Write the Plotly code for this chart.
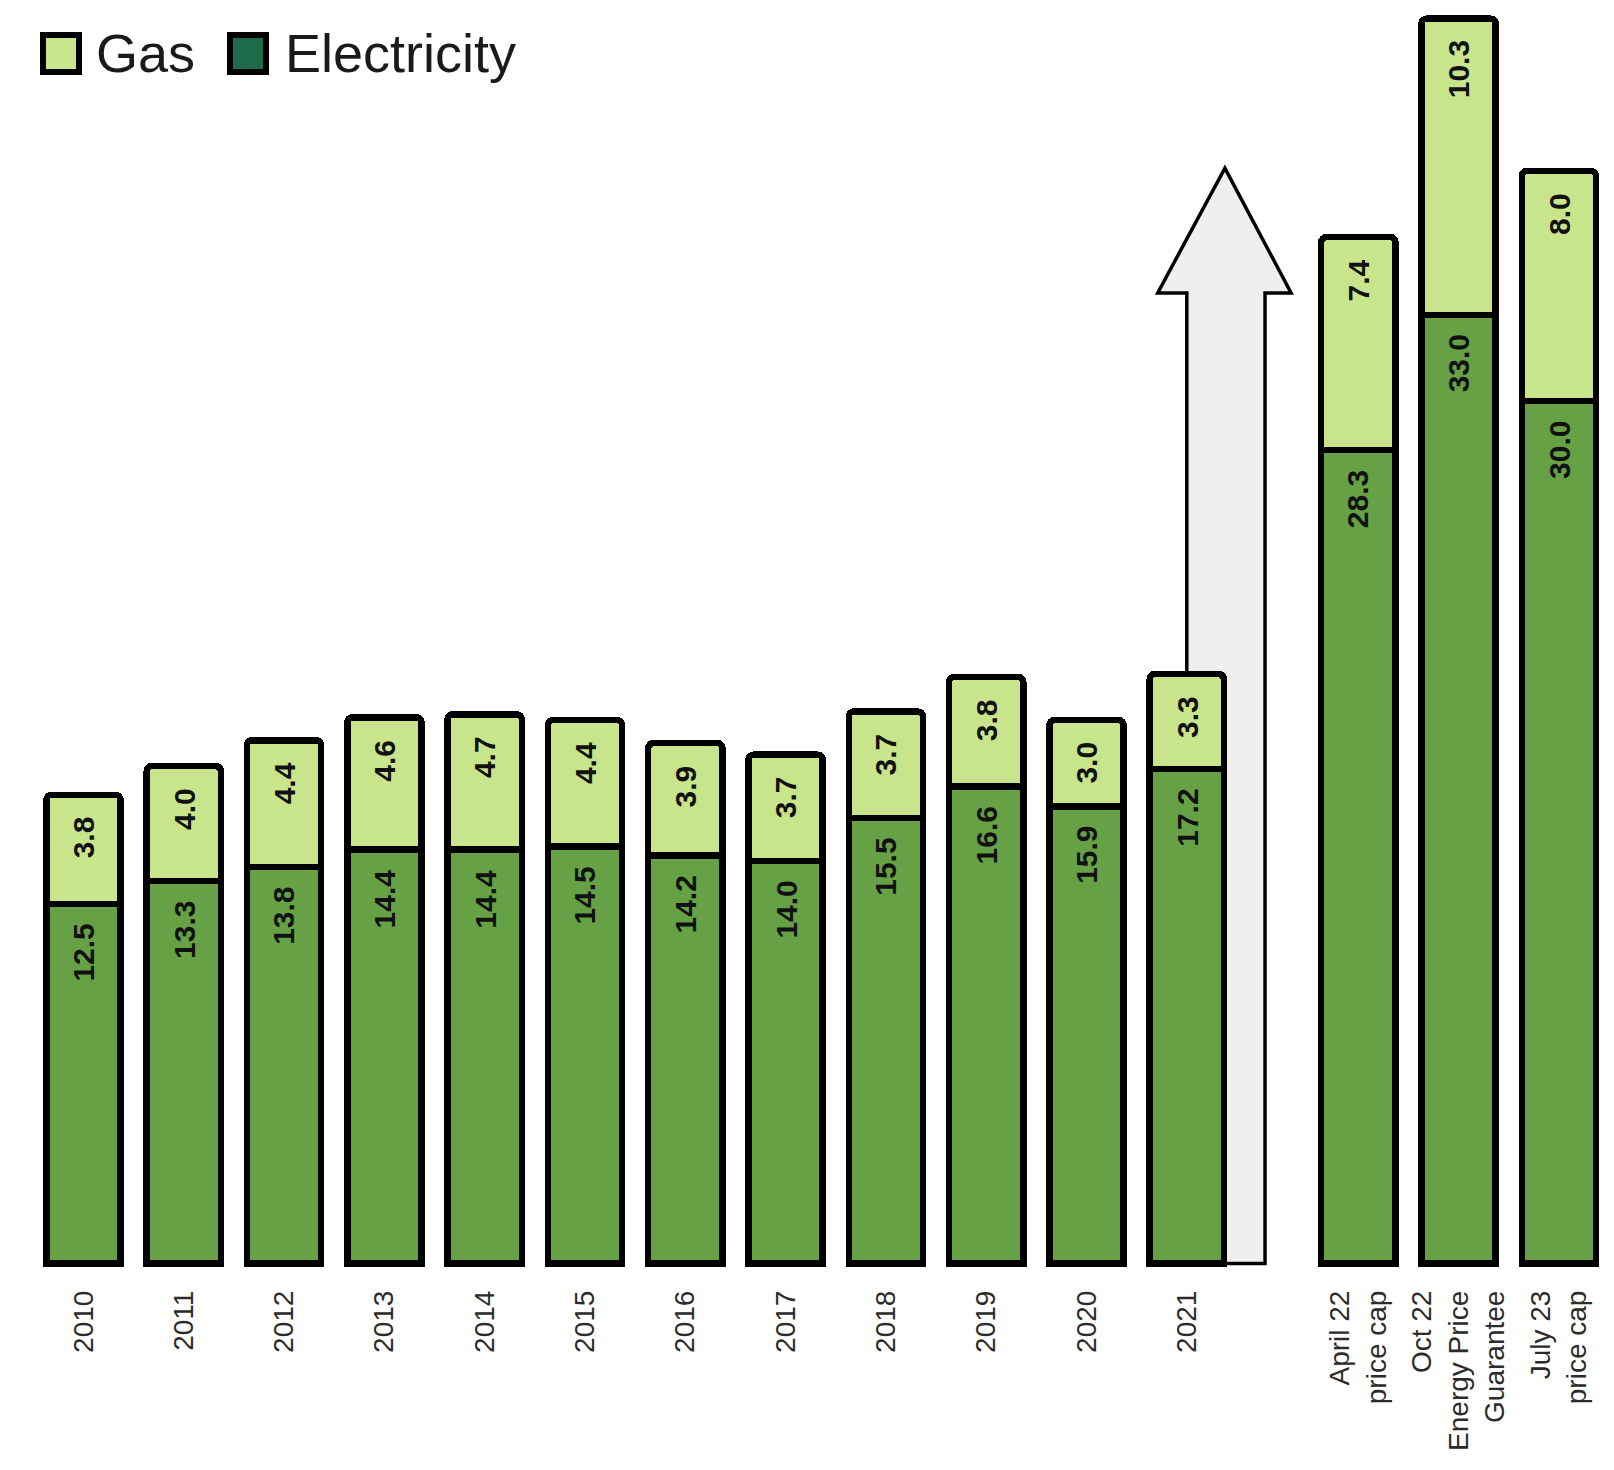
import plotly.graph_objects as go

# ---- data ----
categories = ["2010", "2011", "2012", "2013", "2014", "2015", "2016", "2017",
              "2018", "2019", "2020", "2021",
              "April 22<br>price cap", "Oct 22<br>Energy Price<br>Guarantee", "July 23<br>price cap"]
electricity = [12.5, 13.3, 13.8, 14.4, 14.4, 14.5, 14.2, 14.0, 15.5, 16.6, 15.9, 17.2, 28.3, 33.0, 30.0]
gas = [3.8, 4.0, 4.4, 4.6, 4.7, 4.4, 3.9, 3.7, 3.7, 3.8, 3.0, 3.3, 7.4, 10.3, 8.0]

# ---- layout helpers ----
GAP = 0.71            # extra space before the price-cap bars
N_YEARS = 12
positions = [i if i < N_YEARS else i + GAP for i in range(len(categories))]

ELEC_COLOR = "#66a145"
GAS_COLOR = "#c8e58c"
LEGEND_ELEC = "#1e6b4b"
ARROW_FILL = "#f0efed"

W, H = 1614, 1470
PLOT_BOTTOM_PX = 1264
X_RANGE = [-0.7527, 15.339]
Y_RANGE = [-0.296, 43.67]

fig = go.Figure()

fig.add_trace(go.Bar(
    x=positions, y=electricity, name="Electricity",
    marker=dict(color=ELEC_COLOR, line=dict(color="black", width=6.5)),
    width=0.74, showlegend=False, hoverinfo="skip",
))
fig.add_trace(go.Bar(
    x=positions, y=gas, name="Gas",
    marker=dict(color=GAS_COLOR, line=dict(color="black", width=6.5)),
    width=0.74, showlegend=False, hoverinfo="skip",
))

# value labels
annotations = []
label_font = dict(family="Liberation Sans, Arial, sans-serif", size=30, color="#111111")
for xp, e, g in zip(positions, electricity, gas):
    annotations.append(dict(x=xp, y=e, xref="x", yref="y", text=f"<b>{e:.1f}</b>",
                            textangle=-90, showarrow=False, xanchor="center", yanchor="top",
                            yshift=-18, font=label_font))
    annotations.append(dict(x=xp, y=e + g, xref="x", yref="y", text=f"<b>{g:.1f}</b>",
                            textangle=-90, showarrow=False, xanchor="center", yanchor="top",
                            yshift=-20, font=label_font))

# legend drawn manually (large symbols)
def px_x(p):
    return p / W

def px_y(p):
    return (PLOT_BOTTOM_PX - p) / PLOT_BOTTOM_PX

shapes = []
legend_items = [("Gas", GAS_COLOR, 35, 86), ("Electricity", LEGEND_ELEC, 222, 275)]
for name, col, sx, tx in legend_items:
    shapes.append(dict(type="rect", xref="paper", yref="paper",
                       x0=px_x(sx), x1=px_x(sx + 36), y0=px_y(27), y1=px_y(64),
                       fillcolor=col, line=dict(color="black", width=6)))
    annotations.append(dict(x=px_x(tx), y=px_y(45), xref="paper", yref="paper",
                            text=name, showarrow=False, xanchor="left", yanchor="middle",
                            font=dict(family="Liberation Sans, Arial, sans-serif", size=54,
                                      color="#1a1a1a")))

# upward arrow behind the 2021 bar
SHAFT_L, SHAFT_R = 11.0, 11.78
HEAD_L, HEAD_R, TIP_X = 10.71, 12.04, 11.38
HEAD_BASE, TIP_Y = 33.76, 38.1
arrow_path = (f"M {SHAFT_L},0 L {SHAFT_L},{HEAD_BASE} L {HEAD_L},{HEAD_BASE} "
              f"L {TIP_X},{TIP_Y} L {HEAD_R},{HEAD_BASE} L {SHAFT_R},{HEAD_BASE} "
              f"L {SHAFT_R},0 Z")
shapes.append(dict(type="path", xref="x", yref="y", path=arrow_path,
                   fillcolor=ARROW_FILL, line=dict(color="black", width=3.5), layer="below"))

fig.update_layout(
    width=W, height=H,
    barmode="stack", barcornerradius=5,
    margin=dict(l=0, r=0, t=0, b=H - PLOT_BOTTOM_PX),
    paper_bgcolor="white", plot_bgcolor="white",
    shapes=shapes, annotations=annotations,
    showlegend=False,
)
fig.update_xaxes(range=X_RANGE, tickvals=positions, ticktext=categories, tickangle=-90,
                 showgrid=False, zeroline=False, showline=False, ticks="",
                 ticklabelstandoff=12,
                 tickfont=dict(family="Liberation Sans, Arial, sans-serif", size=28, color="#2b2b2b"))
fig.update_yaxes(range=Y_RANGE, visible=False, showgrid=False, zeroline=False)

fig.write_html("out.html")
